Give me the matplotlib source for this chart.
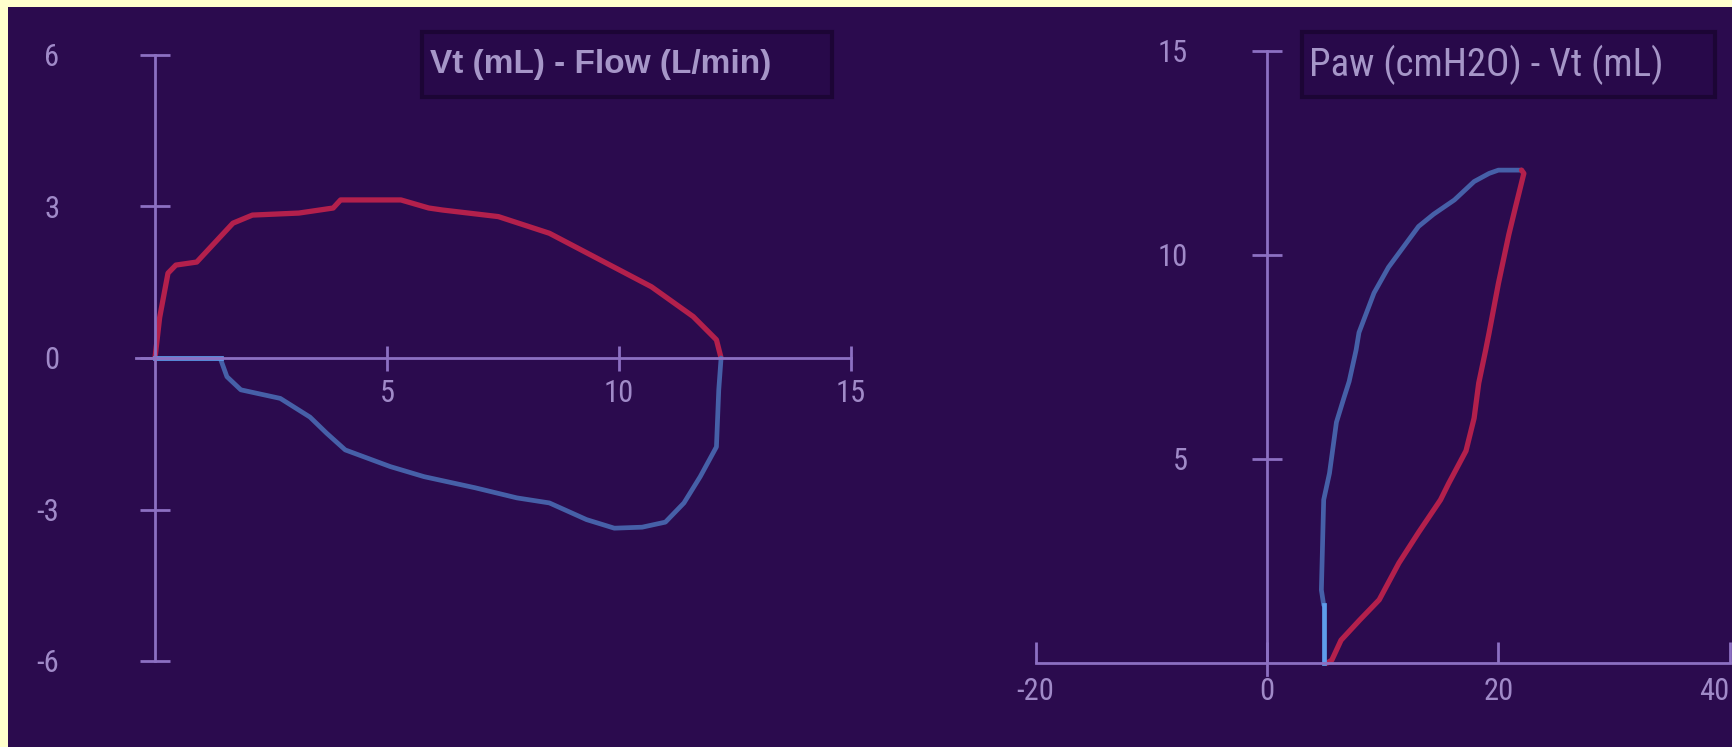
import numpy as np
import matplotlib
matplotlib.use('Agg')
import matplotlib.pyplot as plt
from matplotlib.patches import Rectangle
from matplotlib import font_manager

# figure size in pixels
W, H = 1732, 747
DPI = 100

# colours
border = '#FFFFCC'
bg = '#2B0B4E'
axis_col = '#8C70C2'
label_col = '#A08AC8'
red = '#B3204C'
blue = '#4660A8'
light_blue = '#5E9CEC'

# left loop: volume (mL) vs flow (L/min)
vol_insp = [0, 0.1, 0.28, 0.45, 0.9, 1.68, 2.1, 3.1, 3.84, 4.0, 5.3, 5.9, 6.2, 7.4, 8.5, 9.6, 10.7, 11.6, 12.1, 12.2]
flow_insp = [0, 0.8, 1.68, 1.84, 1.9, 2.67, 2.83, 2.87, 2.97, 3.13, 3.13, 2.97, 2.93, 2.8, 2.47, 1.94, 1.41, 0.82, 0.36, 0]
vol_exp = [12.2, 12.15, 12.1, 11.75, 11.4, 11.0, 10.5, 9.9, 9.3, 8.5, 7.8, 6.9, 5.8, 5.07, 4.1, 3.7, 3.34, 2.7, 1.85, 1.55, 1.42]
flow_exp = [0, -0.63, -1.76, -2.35, -2.87, -3.25, -3.35, -3.37, -3.2, -2.87, -2.77, -2.57, -2.35, -2.15, -1.82, -1.49, -1.17, -0.8, -0.63, -0.37, -0.04]
vol_end = [1.42, 0]
flow_end = [0, 0]

# right loop: pressure (cmH2O) vs volume (mL)
paw_start = [4.9, 4.9]
vt_start = [0, 1.42]
paw_up = [4.9, 4.7, 4.9, 5.4, 6.0, 6.65, 7.1, 7.7, 7.95, 9.25, 10.5, 11.8, 13.1, 14.4, 16.2, 17.9, 19.2, 20.0, 22.0]
vt_up = [1.42, 1.79, 4.0, 4.65, 5.9, 6.5, 6.9, 7.67, 8.1, 9.07, 9.7, 10.2, 10.7, 11.0, 11.35, 11.8, 12.0, 12.08, 12.08]
paw_dn = [22.0, 22.2, 21.5, 20.9, 20.0, 19.2, 18.9, 18.3, 17.9, 17.2, 15.7, 15.0, 13.1, 11.4, 9.7, 8.0, 6.4, 5.6, 5.2]
vt_dn = [12.08, 12.0, 11.2, 10.5, 9.3, 8.1, 7.67, 6.86, 6.0, 5.2, 4.4, 4.0, 3.2, 2.45, 1.55, 1.05, 0.56, 0.07, 0]

left_xticks = [5, 10, 15]
left_yticks = [-6, -3, 0, 3, 6]
left_ylabels = ['-6', '-3', '0', '3', '6']
right_xticks = [-20, 0, 20, 40]
right_xlabels = ['-20', '0', '20', '40']
right_yticks = [5, 10, 15]

# narrow face for the monitor digits, if one is around
names = {f.name for f in font_manager.fontManager.ttflist}
narrow = None
for cand in ['Liberation Sans Narrow', 'DejaVu Sans Condensed', 'Roboto Condensed', 'Open Sans Condensed']:
    if cand in names:
        narrow = cand
        break
tick_font = [narrow or 'Roboto', 'DejaVu Sans']


def make_axes(fig, left, right, x0, xs, y0, ys, top=7, bottom=H):
    # left/right/top/bottom and origin given in pixels from top-left
    ax = fig.add_axes([left / W, (H - bottom) / H, (right - left) / W, (bottom - top) / H])
    ax.set_xlim((left - x0) / xs, (right - x0) / xs)
    ax.set_ylim((y0 - bottom) / ys, (y0 - top) / ys)
    ax.set_facecolor(bg)
    for s in ['top', 'right']:
        ax.spines[s].set_visible(False)
    for s in ['left', 'bottom']:
        ax.spines[s].set_position(('data', 0))
        ax.spines[s].set_color(axis_col)
        ax.spines[s].set_linewidth(2)
    return ax


fig = plt.figure(figsize=(W / DPI, H / DPI), dpi=DPI, facecolor=border)

# ---- left panel
ax1 = make_axes(fig, 8, 960, 155, 46.4, 358, 50.5)
ax1.spines['left'].set_bounds(-6, 6)
ax1.spines['bottom'].set_bounds(-0.4, 15)
ax1.plot(vol_insp, flow_insp, color=red, lw=3.8, solid_capstyle='round', solid_joinstyle='round')
ax1.plot(vol_exp, flow_exp, color=blue, lw=3.4, solid_capstyle='round', solid_joinstyle='round')
ax1.plot(vol_end, flow_end, color=light_blue, lw=3.4)
ax1.set_xticks(left_xticks)
ax1.set_yticks(left_yticks)
ax1.set_yticklabels(left_ylabels)
ax1.tick_params(axis='y', direction='inout', length=22, width=2, color=axis_col, pad=58,
                labelcolor=label_col, labelsize=22)
ax1.tick_params(axis='x', direction='inout', length=18, width=2, color=axis_col, pad=6,
                labelcolor=label_col, labelsize=22)

# ---- right panel
ax2 = make_axes(fig, 960, W, 1267, 11.57, 663, 40.8)
ax2.spines['left'].set_bounds(-0.3, 15)
ax2.spines['bottom'].set_bounds(-20, 40)
ax2.plot(paw_up, vt_up, color=blue, lw=3.4, solid_capstyle='round', solid_joinstyle='round')
ax2.plot(paw_dn, vt_dn, color=red, lw=3.8, solid_capstyle='round', solid_joinstyle='round')
ax2.plot(paw_start, vt_start, color=light_blue, lw=3.4)
ax2.set_xticks(right_xticks)
ax2.set_xticklabels(right_xlabels)
ax2.set_yticks(right_yticks)
ax2.tick_params(axis='y', direction='inout', length=22, width=2, color=axis_col, pad=46,
                labelcolor=label_col, labelsize=22)
ax2.tick_params(axis='x', direction='in', length=15, width=2, color=axis_col, pad=10,
                labelcolor=label_col, labelsize=22)

for ax in (ax1, ax2):
    for lab in ax.get_xticklabels() + ax.get_yticklabels():
        lab.set_fontfamily(tick_font)
        lab.set_clip_on(False)
# last label sits flush against the screen edge
ax2.get_xticklabels()[-1].set_horizontalalignment('right')

# title boxes
for (bx0, bx1, tx, txt, fam, wt, fs) in [
        (422, 832, 430, 'Vt (mL) - Flow (L/min)', ['Liberation Sans', 'DejaVu Sans'], 'bold', 24),
        (1302, 1715, 1309, 'Paw (cmH2O) - Vt (mL)', tick_font, 'normal', 28)]:
    fig.add_artist(Rectangle((bx0 / W, (H - 97) / H), (bx1 - bx0) / W, 65 / H,
                             transform=fig.transFigure, facecolor='#28094A',
                             edgecolor='#1C0535', lw=3))
    fig.text(tx / W, (H - 65) / H, txt, color='#A696C8', fontsize=fs,
             family=fam, weight=wt, va='center', ha='left')

fig.savefig('out.png', dpi=DPI, facecolor=border)
